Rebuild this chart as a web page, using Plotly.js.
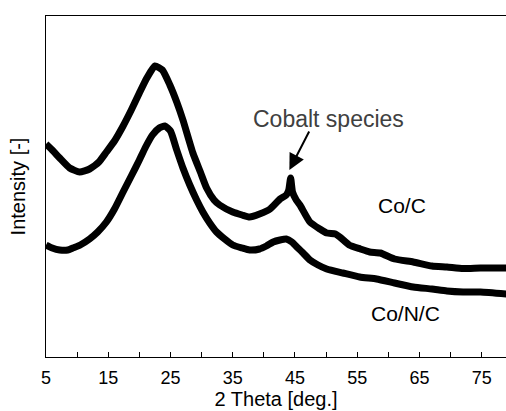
<!DOCTYPE html>
<html>
<head>
<meta charset="utf-8">
<script src="https://cdn.plot.ly/plotly-3.0.1.min.js"></script>
<style>html,body{margin:0;padding:0;background:#fff;}#chart{width:506px;height:411px;}</style>
</head>
<body>
<div id="chart"></div>
<script>
// 2 Theta (deg.) and intensity (arbitrary units)
const coC_theta = [5,6,7.2,8.8,10.4,12,13.5,14.7,16,17.3,18.7,20,21.2,22.5,23.7,24.9,26,27,28.6,29.8,30.8,32,32.9,35,36.5,37.7,39.3,41,42.6,43.6,44.0,44.3,44.6,45.2,45.8,47.4,49,50.1,51.5,52.2,53.7,55.5,57,58.7,61,64,67,69.4,72,74.8,79];
const coC_int   = [213,207,199,189,185,188,195,205,216,230,247,264,279,291,287,272,255,237,204,185,169,157,152,145,142,140,143,148,158,162,167,179,165,157,152,135,128,124,123,120,112,108,105,104,98,95,91,90,88.5,89,89];
const coNC_theta = [5,6,7.2,8.5,9.3,10.5,12,13.3,14.7,16,17.3,18.7,20,21,22.1,23.2,24.1,25,26,27,28.1,29.2,30.2,31.3,32.4,33.7,35,36.5,37.7,39.3,40.4,41.5,42.6,43.6,44.5,45.3,46.3,47.4,48.7,50.1,52.7,55.4,58.1,61,64,67,69.4,72,74.8,79];
const coNC_int   = [112,109,107,107,109,112,118,125,135,148,164,181,197,210,222,229,231,226,207,189,172,157,145,134,125,118,112,109,107,108,111,115,117,118,115,110,104,97,92,88,84,80,78,74,70,68,66,65,65,63];
const xTickVals = [5,15,25,35,45,55,65,75];
const xTickText = ["5","15","25","35","45","55","65","75"];
const seriesNames = ["Co/C","Co/N/C"];

const FONT = "Liberation Sans, Arial, sans-serif";
const traces = [
  {x: coC_theta, y: coC_int, name: seriesNames[0], mode: "lines", line: {color: "#000", width: 7, shape: "spline", smoothing: 0.5}},
  {x: coNC_theta, y: coNC_int, name: seriesNames[1], mode: "lines", line: {color: "#000", width: 7, shape: "spline", smoothing: 0.5}}
];
const layout = {
  width: 506, height: 411,
  margin: {l: 46, r: 0, t: 16, b: 54},
  paper_bgcolor: "#fff", plot_bgcolor: "#fff",
  showlegend: false,
  font: {family: FONT, color: "#000", size: 18},
  xaxis: {
    range: [5, 78.9], showgrid: false, zeroline: false,
    showline: true, linecolor: "#000", linewidth: 1, mirror: true,
    tickmode: "array", tickvals: xTickVals, ticktext: xTickText,
    ticks: "inside", ticklen: 5, tickcolor: "#000", tickwidth: 1,
    ticklabelstandoff: 4,
    minor: {dtick: 5, tick0: 0, ticks: "inside", ticklen: 5, tickcolor: "#000", showgrid: false},
    tickfont: {family: FONT, size: 18, color: "#000"},
    title: {text: "2 Theta [deg.]", font: {family: FONT, size: 20, color: "#000"}, standoff: 1}
  },
  yaxis: {
    range: [0, 341], showgrid: false, zeroline: false,
    showline: true, linecolor: "#000", linewidth: 1,
    showticklabels: false, ticks: "",
    title: {text: "Intensity [-]", font: {family: FONT, size: 20, color: "#000"}, standoff: 14}
  },
  annotations: [
    {x: 50.45, y: 238, xref: "x", yref: "y", text: "Cobalt species", showarrow: false,
     font: {family: FONT, size: 23, color: "#404040"}},
    {x: 44.1, y: 187, xref: "x", yref: "y", ax: 47.4, ay: 227, axref: "x", ayref: "y",
     text: "", showarrow: true, arrowhead: 2, arrowsize: 1.6, arrowwidth: 2, arrowcolor: "#000"},
    {x: 62.2, y: 152, xref: "x", yref: "y", text: "Co/C", showarrow: false,
     font: {family: FONT, size: 21, color: "#000"}},
    {x: 62.7, y: 44, xref: "x", yref: "y", text: "Co/N/C", showarrow: false,
     font: {family: FONT, size: 21, color: "#000"}}
  ]
};
Plotly.newPlot("chart", traces, layout, {staticPlot: true, displayModeBar: false});
</script>
</body>
</html>
